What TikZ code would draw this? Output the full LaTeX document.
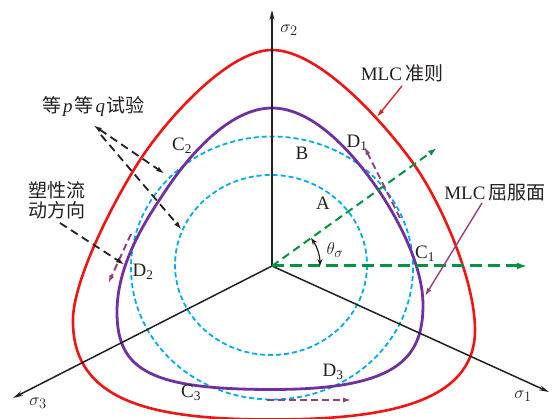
\documentclass[tikz,border=0pt]{standalone}
\usepackage{fontspec}
\setmainfont{Liberation Serif}
\newfontfamily\cjk{Noto Sans CJK SC}
\usetikzlibrary{arrows.meta}
\definecolor{redc}{RGB}{240,20,20}
\definecolor{redp}{RGB}{215,40,40}
\definecolor{purc}{RGB}{112,48,160}
\definecolor{pura}{RGB}{145,65,125}
\definecolor{cyanc}{RGB}{0,170,235}
\definecolor{greenc}{RGB}{0,145,65}
\definecolor{txt}{RGB}{35,31,32}
\tikzset{
  axisline/.style={line width=1.5pt, txt, -{Stealth[length=10pt,width=5pt]}},
  redcurve/.style={line width=2.6pt, redc},
  purcurve/.style={line width=2.8pt, purc},
  cyancircle/.style={line width=1.8pt, cyanc, dash pattern=on 5pt off 3pt},
  greendiag/.style={line width=2pt, greenc, dash pattern=on 8pt off 5pt, -{Latex[length=9pt,width=6pt]}},
  greenhor/.style={line width=3pt, greenc, dash pattern=on 12pt off 6pt, -{Latex[length=10pt,width=7pt]}},
  flowarrow/.style={line width=2pt, pura, dash pattern=on 7pt off 4pt, -{Latex[length=9pt,width=5pt]}},
  testarrow/.style={line width=1.8pt, txt, dash pattern=on 8pt off 5pt, -{Latex[length=9pt,width=5pt]}},
  lbl/.style={inner sep=0pt, text=txt},
}
\newcommand{\sbx}[1]{\textsubscript{#1}}
\begin{document}
\begin{tikzpicture}[x=1pt,y=-1pt, font=\fontsize{19}{21}\selectfont]
\useasboundingbox (0,0) rectangle (552,419);
% key points
\coordinate (O) at (272,266);
\coordinate (s1) at (549,392);
\coordinate (s2) at (272,10);
\coordinate (s3) at (13,398);
\coordinate (g1) at (527,266);
\coordinate (g2) at (437,148);

% MLC criterion (red)
\draw[redcurve] (272,50)
  .. controls (320,50) and (385,124) .. (413,163)
  .. controls (441,202) and (475,280) .. (475,330)
  .. controls (475,405) and (380,419.5) .. (272,419.5)
  .. controls (160,419.5) and (72,405) .. (73,320)
  .. controls (73,280) and (114,200) .. (140,160)
  .. controls (166,120) and (228,50) .. cycle;

% cyan circles
\draw[cyancircle] (271,265) ellipse[x radius=96, y radius=90];
\draw[cyancircle] (272,268) ellipse[x radius=141, y radius=131.5];

% MLC yield surface (purple)
\draw[purcurve] (272,108)
  .. controls (315,108) and (357,157) .. (383,197)
  .. controls (403,228) and (423,270) .. (423,305)
  .. controls (423,360) and (395,389.5) .. (272,389.5)
  .. controls (150,389.5) and (117,370) .. (117,312)
  .. controls (117,270) and (139,230) .. (162,196)
  .. controls (187,157) and (229,108) .. cycle;

% axes
\draw[axisline] (O) -- (s2);
\draw[axisline] (O) -- (s1);
\draw[axisline] (O) -- (s3);

% green dashed directions
\draw[greendiag] (O) -- (g2);
\draw[greenhor] (O) -- (g1);
\draw[line width=1.2pt, txt, {Stealth[length=7pt,width=5pt]}-{Stealth[length=7pt,width=5pt]}]
  ([shift={(-35.6:48)}]O) arc[start angle=-35.6, end angle=0, radius=48];

% plastic flow arrows
\coordinate (f1a) at (400,218); \coordinate (f1b) at (364,146);
\coordinate (f2a) at (131,234); \coordinate (f2b) at (108,284);
\coordinate (f3a) at (267,400); \coordinate (f3b) at (352,400);
\draw[flowarrow] (f1a) -- (f1b);
\draw[flowarrow] (f2a) -- (f2b);
\draw[flowarrow] (f3a) -- (f3b);

% labels
\node[lbl] (ls2) at (289,30) {$\sigma_2$};
\node[lbl] (ls1) at (523,396) {$\sigma_1$};
\node[lbl] (ls3) at (38,403) {$\sigma_3$};
\node[lbl] (lth) at (335,250) {$\theta_\sigma$};
\node[lbl] (lA) at (323,203) {A};
\node[lbl] (lB) at (302,153) {B};
\node[lbl] (lC1) at (425,254) {C\sbx{1}};
\node[lbl] (lC2) at (182,146) {C\sbx{2}};
\node[lbl] (lC3) at (191,393) {C\sbx{3}};
\node[lbl] (lD1) at (357,143) {D\sbx{1}};
\node[lbl] (lD2) at (143,272) {D\sbx{2}};
\node[lbl] (lD3) at (333,372) {D\sbx{3}};

\node[lbl] (lcrit) at (402,73) {MLC\,{\cjk 准则}};
\node[lbl] (lyield) at (495,193) {MLC\,{\cjk 屈服面}};
\node[lbl] (ltest) at (93,106) {{\cjk 等}\kern2pt\textit{p}\kern2pt{\cjk 等}\kern2pt\textit{q}\kern1pt{\cjk 试验}};
\node[lbl, align=center] (lflow) at (57,200) {{\cjk 塑性流}\\[-1pt]{\cjk 动方向}};

% pointers
\coordinate (pc) at (377,117);
\draw[line width=1.4pt, redp, -{Latex[length=8pt,width=5pt]}] (lcrit.south) ++(0,4) -- (pc);
\coordinate (py) at (425,296);
\draw[line width=1.4pt, pura, -{Latex[length=8pt,width=5pt]}] (482,203) -- (py);

\coordinate (t0) at (93,125);
\coordinate (t0b) at (101,135);
\coordinate (tB) at (165,174);
\coordinate (tA) at (182,230);
\draw[testarrow, {Latex[length=9pt,width=5pt]}-{Latex[length=9pt,width=5pt]}] (t0) -- (tB);
\draw[testarrow] (t0b) -- (tA);
\coordinate (fl0) at (60,223);
\coordinate (flD) at (125,265);
\draw[testarrow] (fl0) -- (flD);
\end{tikzpicture}
\end{document}
